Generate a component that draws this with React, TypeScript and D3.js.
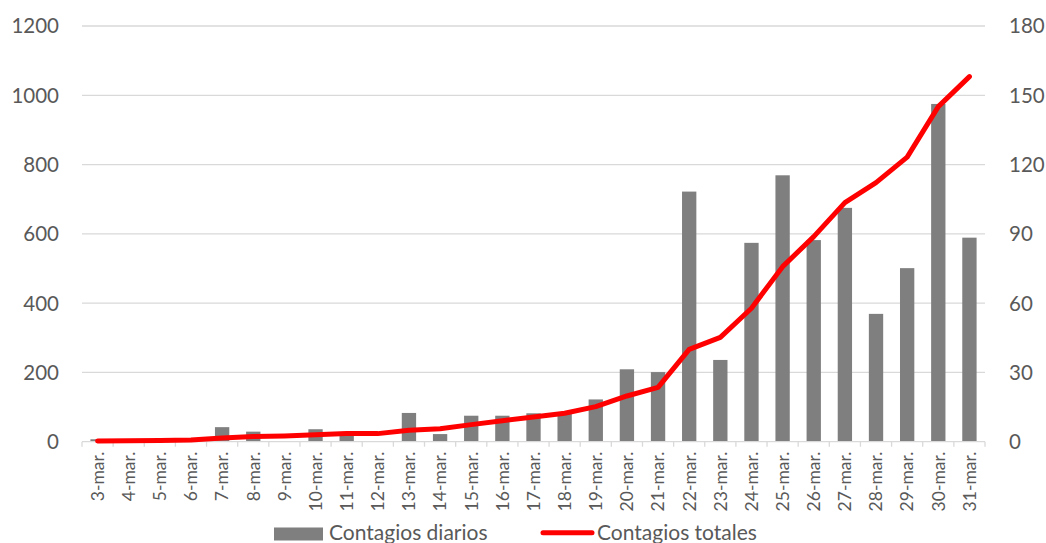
import React from "react";
import * as d3 from "d3";

// Daily and cumulative COVID-19 infections, March
const dates = [
  "3-mar.", "4-mar.", "5-mar.", "6-mar.", "7-mar.", "8-mar.", "9-mar.", "10-mar.",
  "11-mar.", "12-mar.", "13-mar.", "14-mar.", "15-mar.", "16-mar.", "17-mar.",
  "18-mar.", "19-mar.", "20-mar.", "21-mar.", "22-mar.", "23-mar.", "24-mar.",
  "25-mar.", "26-mar.", "27-mar.", "28-mar.", "29-mar.", "30-mar.", "31-mar.",
];
const dailyCases = [
  7, 0, 0, 0, 42, 29, 2, 36, 18, 0, 83, 22, 75, 75, 82, 80, 122, 209, 201,
  722, 236, 574, 769, 582, 675, 369, 501, 975, 589,
];
const totalCases = [
  0.3, 0.4, 0.5, 0.7, 1.6, 2.2, 2.5, 3, 3.5, 3.5, 5, 5.6, 7.4, 9.1, 10.7,
  12.3, 15.2, 19.8, 23.5, 40, 45.2, 57.8, 75.8, 88.8, 103.5, 112.2, 123.2,
  145.1, 158.1,
];
const leftTicks = [0, 200, 400, 600, 800, 1000, 1200];
const rightTicks = [0, 30, 60, 90, 120, 150, 180];

const W = 1046;
const H = 543;
const plot = { left: 82, right: 985, top: 26, bottom: 441.7 };
const textColor = "#595959";
const gridColor = "#d9d9d9";
const font = "Lato, 'Open Sans', sans-serif";

export default function App() {
  const x = d3
    .scaleBand<string>()
    .domain(dates)
    .range([plot.left, plot.right])
    .paddingInner(0.54)
    .paddingOuter(0.27);
  const step = x.step();
  const yL = d3.scaleLinear().domain([0, 1200]).range([plot.bottom, plot.top]);
  const yR = d3.scaleLinear().domain([0, 180]).range([plot.bottom, plot.top]);

  const line = d3
    .line<number>()
    .x((_, i) => (x(dates[i]) as number) + x.bandwidth() / 2)
    .y((d) => yR(d));

  const boundaries = d3.range(dates.length + 1).map((i) => plot.left + i * step);

  return (
    <svg
      width={W}
      height={H}
      style={{ position: "absolute", left: 0, top: 0, background: "#fff" }}
      fontFamily={font}
    >
      {/* gridlines */}
      {leftTicks.slice(1).map((t) => (
        <line
          key={t}
          x1={plot.left}
          x2={plot.right}
          y1={yL(t)}
          y2={yL(t)}
          stroke={gridColor}
          strokeWidth={1.3}
        />
      ))}

      {/* bars */}
      {dailyCases.map((v, i) => (
        <rect
          key={dates[i]}
          x={x(dates[i])}
          y={yL(v)}
          width={x.bandwidth()}
          height={plot.bottom - yL(v)}
          fill="#7f7f7f"
        />
      ))}

      {/* category axis */}
      <line
        x1={plot.left}
        x2={plot.right}
        y1={plot.bottom}
        y2={plot.bottom}
        stroke={gridColor}
        strokeWidth={1.3}
      />
      {boundaries.map((bx, i) => (
        <line
          key={i}
          x1={bx}
          x2={bx}
          y1={plot.bottom}
          y2={plot.bottom + 5}
          stroke={gridColor}
          strokeWidth={1.3}
        />
      ))}

      {/* cumulative line */}
      <path
        d={line(totalCases) ?? ""}
        fill="none"
        stroke="#ff0000"
        strokeWidth={5}
        strokeLinecap="round"
        strokeLinejoin="round"
      />

      {/* left axis labels */}
      {leftTicks.map((t) => (
        <text
          key={t}
          x={59}
          y={yL(t)}
          dy="0.36em"
          textAnchor="end"
          fontSize={20.5}
          fill={textColor}
        >
          {t}
        </text>
      ))}

      {/* right axis labels */}
      {rightTicks.map((t) => (
        <text
          key={t}
          x={1009}
          y={yR(t)}
          dy="0.36em"
          textAnchor="start"
          fontSize={20.5}
          fill={textColor}
        >
          {t}
        </text>
      ))}

      {/* date labels */}
      {dates.map((d) => {
        const cx = (x(d) as number) + x.bandwidth() / 2;
        return (
          <text
            key={d}
            transform={`translate(${cx},${plot.bottom + 10}) rotate(-90)`}
            dy="0.36em"
            textAnchor="end"
            fontSize={17.5}
            fill={textColor}
          >
            {d}
          </text>
        );
      })}

      {/* legend */}
      <rect x={274} y={527.5} width={49} height={13} fill="#7f7f7f" />
      <text x={329} y={540} fontSize={21} fill={textColor}>
        Contagios diarios
      </text>
      <line
        x1={543}
        x2={592}
        y1={532.7}
        y2={532.7}
        stroke="#ff0000"
        strokeWidth={5}
        strokeLinecap="round"
      />
      <text x={597} y={540} fontSize={21} fill={textColor}>
        Contagios totales
      </text>
    </svg>
  );
}
